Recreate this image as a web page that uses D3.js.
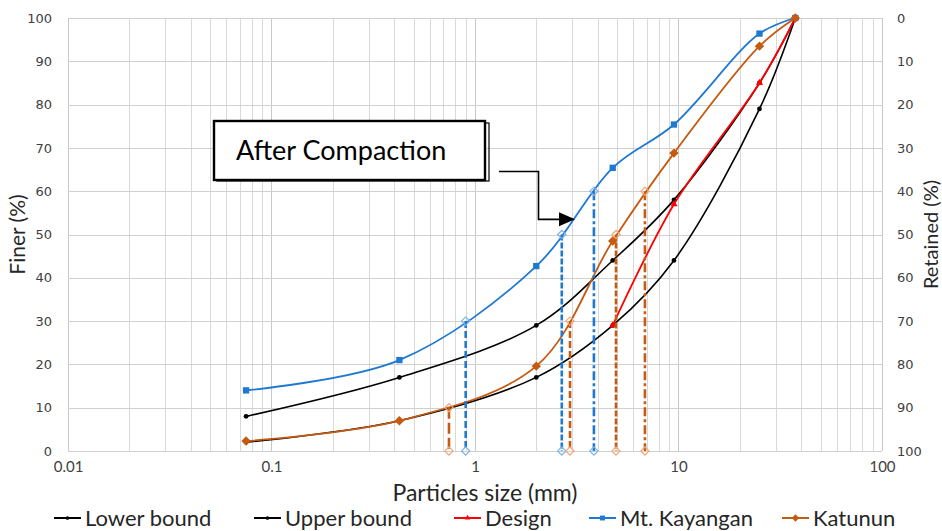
<!DOCTYPE html>
<html>
<head>
<meta charset="utf-8">
<script src="https://cdn.jsdelivr.net/npm/d3@7"></script>
<style>
  body { margin: 0; background: #fff; }
</style>
</head>
<body>
<script>
// sieve sizes (mm) and percent finer for each gradation
var sizes = [0.075, 0.425, 2, 4.75, 9.5, 25, 37.5];
var lowerBound = [2, 7, 17, 29, 44, 79, 100];
var upperBound = [8, 17, 29, 44, 58, 85, 100];
var designSizes = [4.75, 9.5, 25, 37.5];
var designValues = [29, 57, 85, 100];
var kayangan = [14, 21, 42.7, 65.4, 75.4, 96.4, 100];
var katunun = [2.3, 7, 19.6, 48.5, 68.8, 93.5, 100];

// D-values after compaction
var kayanganDPercent = [30, 50, 60];
var kayanganDSizes = [0.9, 2.67, 3.84];
var katununDPercent = [10, 30, 50, 60];
var katununDSizes = [0.745, 2.93, 4.93, 6.84];

var xTickLabels = [0.01, 0.1, 1, 10, 100];
var yTickLabels = [0, 10, 20, 30, 40, 50, 60, 70, 80, 90, 100];
var legendNames = ["Lower bound", "Upper bound", "Design", "Mt. Kayangan", "Katunun"];

var W = 942, H = 531;
var pLeft = 68, pRight = 882, pTop = 18, pBottom = 451;
var BLUE = "#1f78d1", ORANGE = "#c55a11", RED = "#ff0000";
var TXT = "'Lato', 'Open Sans', sans-serif";
var NUM = "'DejaVu Sans', sans-serif";

var canvas = d3.select("body")
    .append("svg")
    .attr("width", W)
    .attr("height", H);

var x = d3.scaleLog().domain([0.01, 100]).range([pLeft, pRight]);
var y = d3.scaleLinear().domain([0, 100]).range([pBottom, pTop]);
var yR = d3.scaleLinear().domain([100, 0]).range([pBottom, pTop]);

// grid
canvas.append("g")
    .selectAll("line")
    .data(x.ticks())
    .enter()
        .append("line")
        .attr("x1", function (d) { return Math.round(x(d)) + 0.5; })
        .attr("x2", function (d) { return Math.round(x(d)) + 0.5; })
        .attr("y1", pTop)
        .attr("y2", pBottom)
        .attr("stroke", function (d) { return xTickLabels.indexOf(d) >= 0 ? "#c8c8c8" : "#d9d9d9"; })
        .attr("stroke-width", 1);

canvas.append("g")
    .selectAll("line")
    .data(yTickLabels)
    .enter()
        .append("line")
        .attr("x1", pLeft)
        .attr("x2", pRight)
        .attr("y1", function (d) { return Math.round(y(d)) + 0.5; })
        .attr("y2", function (d) { return Math.round(y(d)) + 0.5; })
        .attr("stroke", "#d0d0d0")
        .attr("stroke-width", 1);

// axes
var yAxisL = d3.axisLeft(y).tickValues(yTickLabels).tickSize(0).tickPadding(16);
var yAxisR = d3.axisRight(yR).tickValues(yTickLabels).tickSize(0).tickPadding(15);
var xAxis = d3.axisBottom(x).tickValues(xTickLabels).tickSize(0).tickPadding(10)
    .tickFormat(function (d) { return String(d); });

function styleAxis(g, font, size) {
    g.select(".domain").remove();
    g.selectAll("text")
        .attr("fill", "#404040")
        .style("font-family", font)
        .style("font-size", size);
}

canvas.append("g").attr("transform", "translate(" + pLeft + ",0)")
    .call(yAxisL).call(styleAxis, NUM, "13px");
canvas.append("g").attr("transform", "translate(" + pRight + ",0)")
    .call(yAxisR).call(styleAxis, NUM, "13px");
canvas.append("g").attr("transform", "translate(0," + pBottom + ")")
    .call(xAxis).call(styleAxis, TXT, "15px");

// axis titles
canvas.append("text")
    .attr("transform", "translate(25," + ((pTop + pBottom) / 2) + ") rotate(-90)")
    .attr("text-anchor", "middle")
    .attr("fill", "#262626")
    .style("font-family", TXT)
    .style("font-size", "21px")
    .text("Finer (%)");

canvas.append("text")
    .attr("transform", "translate(938," + ((pTop + pBottom) / 2) + ") rotate(-90)")
    .attr("text-anchor", "middle")
    .attr("fill", "#262626")
    .style("font-family", TXT)
    .style("font-size", "20px")
    .text("Retained (%)");

canvas.append("text")
    .attr("x", 485)
    .attr("y", 501)
    .attr("text-anchor", "middle")
    .attr("fill", "#262626")
    .style("font-family", TXT)
    .style("font-size", "23px")
    .text("Particles size (mm)");

// D-value drop lines
var dashFor = {10: "11,4", 30: "7,3", 50: "6,2", 60: "9,3,3,3"};

function dropLines(pcts, szs, color, light) {
    var rows = pcts.map(function (p, i) { return {p: p, s: szs[i]}; });
    var g = canvas.append("g");
    g.selectAll("line")
        .data(rows)
        .enter()
            .append("line")
            .attr("x1", function (d) { return x(d.s); })
            .attr("x2", function (d) { return x(d.s); })
            .attr("y1", function (d) { return y(d.p); })
            .attr("y2", y(0))
            .attr("stroke", color)
            .attr("stroke-width", 2.6)
            .style("stroke-dasharray", function (d) { return dashFor[d.p]; });
    var ends = [];
    rows.forEach(function (d) { ends.push({s: d.s, p: d.p}); ends.push({s: d.s, p: 0}); });
    g.selectAll("path")
        .data(ends)
        .enter()
            .append("path")
            .attr("d", d3.symbol().type(d3.symbolSquare).size(34))
            .attr("transform", function (d) { return "translate(" + x(d.s) + "," + y(d.p) + ") rotate(45)"; })
            .attr("fill", "none")
            .attr("stroke", light)
            .attr("stroke-width", 1.2);
}

// series
var line = d3.line()
    .x(function (d) { return x(d.s); })
    .y(function (d) { return y(d.v); })
    .curve(d3.curveCatmullRom.alpha(0.5));

var series = [
    {name: "Lower bound", s: sizes, v: lowerBound, c: "#000000", sym: d3.symbolCircle, size: 18, rot: 0, w: 1.6},
    {name: "Upper bound", s: sizes, v: upperBound, c: "#000000", sym: d3.symbolCircle, size: 18, rot: 0, w: 1.6},
    {name: "Design", s: designSizes, v: designValues, c: RED, sym: d3.symbolTriangle, size: 22, rot: 0, w: 1.8},
    {name: "Mt. Kayangan", s: sizes, v: kayangan, c: BLUE, sym: d3.symbolSquare, size: 40, rot: 0, w: 1.8},
    {name: "Katunun", s: sizes, v: katunun, c: ORANGE, sym: d3.symbolSquare, size: 44, rot: 45, w: 1.8}
];

series.forEach(function (sr) {
    var pts = sr.s.map(function (s, i) { return {s: s, v: sr.v[i]}; });
    var g = canvas.append("g");
    g.append("path")
        .datum(pts)
        .attr("d", line)
        .attr("fill", "none")
        .attr("stroke", sr.c)
        .attr("stroke-width", sr.w);
    g.selectAll(".m")
        .data(pts)
        .enter()
            .append("path")
            .attr("d", d3.symbol().type(sr.sym).size(sr.size))
            .attr("transform", function (d) { return "translate(" + x(d.s) + "," + y(d.v) + ") rotate(" + sr.rot + ")"; })
            .attr("fill", sr.c);
});

dropLines(kayanganDPercent, kayanganDSizes, BLUE, "#7fb2e5");
dropLines(katununDPercent, katununDSizes, ORANGE, "#f0a878");

// annotation box
canvas.append("rect")
    .attr("x", 217).attr("y", 123)
    .attr("width", 272).attr("height", 58)
    .attr("fill", "none")
    .attr("stroke", "#000")
    .attr("stroke-width", 1.2);
canvas.append("rect")
    .attr("x", 214).attr("y", 121)
    .attr("width", 271).attr("height", 59)
    .attr("fill", "#fff")
    .attr("stroke", "#000")
    .attr("stroke-width", 2.4);
canvas.append("text")
    .attr("x", 236)
    .attr("y", 160)
    .attr("fill", "#000")
    .style("font-family", TXT)
    .style("font-size", "27px")
    .text("After Compaction");

// arrow pointing to the Mt. Kayangan curve
var tipX = x(3.1), tipY = y(53.5);
canvas.append("path")
    .attr("d", "M499,171.5H538.5V" + tipY + "H" + (tipX - 14))
    .attr("fill", "none")
    .attr("stroke", "#000")
    .attr("stroke-width", 1.6);
canvas.append("path")
    .attr("d", "M" + tipX + "," + tipY + "L" + (tipX - 16) + "," + (tipY - 7) + "L" + (tipX - 16) + "," + (tipY + 7) + "Z")
    .attr("fill", "#000");

// legend
var legendX = [54, 254, 454, 589, 782];
var lg = canvas.append("g")
    .selectAll("g")
    .data(series)
    .enter()
        .append("g")
        .attr("transform", function (d, i) { return "translate(" + legendX[i] + ",518)"; });
lg.append("line")
    .attr("x1", 0).attr("x2", 27)
    .attr("stroke", function (d) { return d.c; })
    .attr("stroke-width", 2);
lg.append("path")
    .attr("d", function (d) { return d3.symbol().type(d.sym).size(d.size * 0.6)(); })
    .attr("transform", function (d) { return "translate(13.5,0) rotate(" + d.rot + ")"; })
    .attr("fill", function (d) { return d.c; });
lg.append("text")
    .attr("x", 31)
    .attr("y", 7.5)
    .attr("fill", "#262626")
    .style("font-family", TXT)
    .style("font-size", "22px")
    .text(function (d, i) { return legendNames[i]; });
</script>
</body>
</html>
